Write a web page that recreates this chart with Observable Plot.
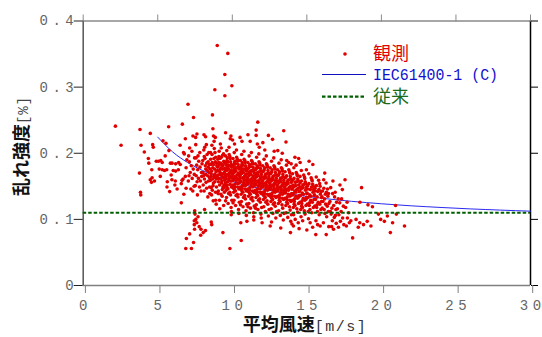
<!DOCTYPE html>
<html><head><meta charset="utf-8">
<script src="https://cdn.jsdelivr.net/npm/d3@7"></script>
<script src="https://cdn.jsdelivr.net/npm/@observablehq/plot@0.6"></script>
<style>body{margin:0;background:#fff;} #chart{width:542px;height:337px;}</style>
</head><body><div id="chart"></div>
<script>
// Observed turbulence intensity vs mean wind speed: [speed m/s, TI]
const observed = [
[2.16,0.241],[2.54,0.212],[3.81,0.236],[3.84,0.141],[3.86,0.137],[3.88,0.212],[3.77,0.170],[4.10,0.202],[4.37,0.192],[4.40,0.185],[4.50,0.230],[4.66,0.213],[4.70,0.209],[4.50,0.160],[4.62,0.163],[4.58,0.156],[4.78,0.158],[4.90,0.188],[4.60,0.175],
[5.05,0.188],[5.20,0.189],[5.30,0.186],[5.10,0.176],[5.30,0.175],[5.45,0.174],[5.60,0.175],[5.17,0.165],[5.64,0.157],[5.62,0.149],[5.73,0.240],[5.35,0.219],[5.55,0.215],[5.75,0.204],[5.90,0.167],[5.50,0.196],[5.85,0.185],[5.80,0.142],[5.95,0.160],
[6.04,0.174],[6.20,0.173],[6.38,0.175],[5.96,0.185],[6.20,0.184],[6.40,0.186],[6.51,0.183],[6.65,0.244],[6.73,0.201],[6.78,0.199],[6.18,0.158],[6.15,0.152],[6.63,0.159],[6.70,0.161],[6.58,0.154],[6.85,0.165],[6.58,0.125],[6.30,0.146],[6.90,0.178],[6.95,0.190],[6.50,0.212],[6.85,0.222],[6.90,0.147],[6.75,0.138],
[7.03,0.274],[7.40,0.254],[7.36,0.226],[7.07,0.196],[7.12,0.187],[7.25,0.181],[7.31,0.162],[7.18,0.171],[7.44,0.150],[7.05,0.158],[7.22,0.146],[7.38,0.176],[7.47,0.193],[7.14,0.208],[7.29,0.203],[7.35,0.143],[7.45,0.168],[7.10,0.166],
[7.14,0.078],[6.92,0.071],[7.40,0.065],[6.88,0.056],[7.26,0.056],[7.45,0.098],[7.50,0.108],[7.48,0.113],[7.45,0.092],[7.47,0.085],
[7.54,0.224],[7.63,0.229],[7.55,0.213],[7.70,0.196],[7.82,0.201],[7.61,0.182],[7.75,0.188],[7.93,0.171],[7.58,0.166],[7.68,0.175],[7.86,0.158],[7.97,0.184],[7.52,0.151],[7.73,0.162],[7.90,0.143],[7.64,0.157],[7.80,0.149],[7.95,0.165],[7.83,0.179],[7.66,0.137],[7.57,0.193],
[7.62,0.095],[7.78,0.089],[7.90,0.085],[7.88,0.076],[7.55,0.100],[7.70,0.104],
[8.10,0.228],[8.21,0.225],[8.14,0.115],[8.20,0.083],[8.05,0.080],
[8.03,0.171],[8.41,0.158],[8.17,0.192],[8.28,0.147],[8.46,0.183],[8.09,0.205],[8.35,0.166],[8.22,0.176],[8.49,0.139],[8.13,0.161],[8.31,0.198],[8.05,0.152],[8.44,0.171],[8.26,0.213],[8.38,0.187],[8.11,0.143],[8.19,0.181],[8.47,0.163],[8.02,0.189],[8.33,0.174],[8.24,0.156],[8.42,0.201],[8.07,0.166],[8.36,0.134],[8.15,0.209],[8.29,0.185],[8.48,0.149],[8.21,0.168],[8.39,0.179],[8.12,0.195],
[8.67,0.258],[8.70,0.237],[8.74,0.226],[8.86,0.224],[8.83,0.296],[8.99,0.363],[8.88,0.129],[8.59,0.096],[8.62,0.092],
[8.52,0.176],[8.87,0.163],[8.64,0.198],[8.71,0.151],[8.95,0.185],[8.58,0.169],[8.79,0.207],[8.66,0.144],[8.91,0.172],[8.55,0.191],[8.83,0.157],[8.74,0.183],[8.98,0.166],[8.61,0.137],[8.89,0.194],[8.69,0.178],[8.53,0.159],[8.81,0.176],[8.94,0.149],[8.63,0.212],[8.76,0.165],[8.57,0.183],[8.86,0.187],[8.72,0.128],[8.99,0.174],[8.68,0.161],[8.84,0.201],[8.59,0.148],[8.93,0.161],[8.77,0.192],[8.62,0.173],[8.88,0.141],[8.54,0.201],[8.96,0.181],[8.73,0.155],[8.65,0.186],[8.82,0.168],[8.92,0.123],[8.56,0.165],[8.78,0.218],
[9.50,0.319],[9.50,0.287],[9.37,0.080],
[9.04,0.167],[9.38,0.181],[9.15,0.152],[9.27,0.194],[9.46,0.171],[9.09,0.186],[9.33,0.145],[9.21,0.176],[9.49,0.159],[9.12,0.203],[9.29,0.166],[9.02,0.179],[9.43,0.188],[9.24,0.138],[9.36,0.169],[9.07,0.157],[9.18,0.192],[9.45,0.148],[9.01,0.174],[9.31,0.183],[9.23,0.161],[9.41,0.199],[9.06,0.143],[9.34,0.176],[9.14,0.129],[9.28,0.155],[9.47,0.186],[9.19,0.171],[9.39,0.164],[9.11,0.182],[9.26,0.208],[9.44,0.152],[9.03,0.191],[9.32,0.135],[9.17,0.168],[9.48,0.177],[9.22,0.185],[9.37,0.149],[9.08,0.162],[9.42,0.121],[9.13,0.173],[9.35,0.197],[9.25,0.178],[9.05,0.139],[9.40,0.163],[9.20,0.214],[9.30,0.158],[9.16,0.116],[9.47,0.141],[9.10,0.195],
[9.70,0.351],[9.97,0.302],[9.91,0.226],[9.86,0.222],[9.84,0.056],[9.93,0.107],[9.55,0.231],
[9.52,0.173],[9.87,0.158],[9.64,0.189],[9.71,0.146],[9.95,0.179],[9.58,0.165],[9.79,0.198],[9.66,0.152],[9.91,0.171],[9.55,0.184],[9.83,0.141],[9.74,0.176],[9.98,0.163],[9.61,0.133],[9.89,0.187],[9.69,0.168],[9.53,0.155],[9.81,0.181],[9.94,0.149],[9.63,0.204],[9.76,0.161],[9.57,0.177],[9.86,0.192],[9.72,0.124],[9.99,0.169],[9.68,0.157],[9.84,0.195],[9.59,0.144],[9.93,0.183],[9.77,0.166],[9.62,0.174],[9.88,0.137],[9.54,0.196],[9.96,0.158],[9.73,0.182],[9.65,0.148],[9.82,0.171],[9.92,0.118],[9.56,0.162],[9.78,0.209],[9.60,0.186],[9.85,0.153],[9.70,0.177],[9.97,0.129],[9.51,0.168],[9.80,0.163],[9.67,0.193],[9.90,0.174],[9.75,0.139],[9.58,0.151],[9.94,0.112],[9.63,0.181],[9.83,0.166],[9.72,0.187],[9.55,0.128],
[10.02,0.220],[10.15,0.214],
[10.02,0.168],[10.37,0.154],[10.14,0.185],[10.21,0.143],[10.45,0.176],[10.08,0.161],[10.29,0.194],[10.16,0.149],[10.41,0.169],[10.05,0.181],[10.33,0.138],[10.24,0.173],[10.48,0.159],[10.11,0.129],[10.39,0.183],[10.19,0.165],[10.03,0.152],[10.31,0.178],[10.44,0.146],[10.13,0.201],[10.26,0.158],[10.07,0.174],[10.36,0.188],[10.22,0.121],[10.49,0.166],[10.18,0.153],[10.34,0.191],[10.09,0.141],[10.43,0.179],[10.27,0.163],[10.12,0.171],[10.38,0.134],[10.04,0.192],[10.46,0.155],[10.23,0.178],[10.15,0.145],[10.32,0.167],[10.42,0.115],[10.06,0.159],[10.28,0.205],[10.10,0.182],[10.35,0.149],[10.20,0.174],[10.47,0.126],[10.01,0.164],[10.30,0.160],[10.17,0.188],[10.40,0.170],[10.25,0.136],[10.08,0.147],[10.44,0.109],[10.13,0.177],[10.33,0.162],[10.22,0.184],[10.05,0.125],
[10.57,0.095],[10.98,0.097],[10.60,0.068],[10.52,0.224],[10.65,0.218],
[10.52,0.166],[10.87,0.151],[10.64,0.183],[10.71,0.141],[10.95,0.173],[10.58,0.158],[10.79,0.191],[10.66,0.147],[10.91,0.167],[10.55,0.179],[10.83,0.136],[10.74,0.171],[10.98,0.156],[10.61,0.127],[10.89,0.181],[10.69,0.163],[10.53,0.149],[10.81,0.176],[10.94,0.143],[10.63,0.198],[10.76,0.155],[10.57,0.172],[10.86,0.186],[10.72,0.119],[10.99,0.163],[10.68,0.151],[10.84,0.189],[10.59,0.138],[10.93,0.177],[10.77,0.161],[10.62,0.169],[10.88,0.131],[10.54,0.189],[10.96,0.153],[10.73,0.176],[10.65,0.143],[10.82,0.165],[10.92,0.113],[10.56,0.157],[10.78,0.203],[10.60,0.180],[10.85,0.146],[10.70,0.172],[10.97,0.123],[10.51,0.162],[10.80,0.158],[10.67,0.186],[10.90,0.168],[10.75,0.133],[10.58,0.145],[10.94,0.106],[10.63,0.175],[10.83,0.160],[10.72,0.182],[10.55,0.122],
[11.20,0.218],[11.05,0.228],[11.44,0.099],
[11.02,0.163],[11.37,0.149],[11.14,0.181],[11.21,0.138],[11.45,0.171],[11.08,0.156],[11.29,0.189],[11.16,0.144],[11.41,0.164],[11.05,0.177],[11.33,0.133],[11.24,0.168],[11.48,0.153],[11.11,0.124],[11.39,0.179],[11.19,0.160],[11.03,0.146],[11.31,0.174],[11.44,0.141],[11.13,0.196],[11.26,0.152],[11.07,0.169],[11.36,0.184],[11.22,0.117],[11.49,0.160],[11.18,0.148],[11.34,0.187],[11.09,0.135],[11.43,0.175],[11.27,0.158],[11.12,0.166],[11.38,0.128],[11.04,0.186],[11.46,0.151],[11.23,0.173],[11.15,0.140],[11.32,0.162],[11.42,0.110],[11.06,0.154],[11.28,0.201],[11.10,0.178],[11.35,0.143],[11.20,0.170],[11.47,0.120],[11.01,0.159],[11.30,0.155],[11.17,0.183],[11.40,0.166],[11.25,0.131],[11.08,0.142],[11.44,0.104],[11.13,0.172],[11.33,0.157],[11.22,0.180],[11.05,0.119],
[11.71,0.247],[11.60,0.235],[11.60,0.227],[11.68,0.214],[11.81,0.209],[12.00,0.095],
[11.52,0.161],[11.87,0.146],[11.64,0.178],[11.71,0.136],[11.95,0.168],[11.58,0.154],[11.79,0.187],[11.66,0.142],[11.91,0.162],[11.55,0.175],[11.83,0.131],[11.74,0.166],[11.98,0.151],[11.61,0.122],[11.89,0.177],[11.69,0.158],[11.53,0.144],[11.81,0.172],[11.94,0.139],[11.63,0.194],[11.76,0.150],[11.57,0.167],[11.86,0.182],[11.72,0.115],[11.99,0.158],[11.68,0.146],[11.84,0.185],[11.59,0.133],[11.93,0.173],[11.77,0.156],[11.62,0.164],[11.88,0.126],[11.54,0.184],[11.96,0.149],[11.73,0.171],[11.65,0.138],[11.82,0.160],[11.92,0.108],[11.56,0.152],[11.78,0.199],[11.60,0.176],[11.85,0.141],[11.70,0.168],[11.97,0.118],[11.51,0.157],[11.80,0.153],[11.67,0.181],[11.90,0.164],[11.75,0.129],[11.58,0.140],[11.94,0.102],[11.63,0.170],[11.83,0.155],[11.72,0.178],[11.55,0.117],
[12.42,0.227],[12.05,0.216],[12.18,0.205],
[12.02,0.158],[12.37,0.144],[12.14,0.175],[12.21,0.133],[12.45,0.165],[12.08,0.151],[12.29,0.184],[12.16,0.139],[12.41,0.159],[12.05,0.172],[12.33,0.128],[12.24,0.163],[12.48,0.148],[12.11,0.119],[12.39,0.174],[12.19,0.155],[12.03,0.141],[12.31,0.169],[12.44,0.136],[12.13,0.191],[12.26,0.147],[12.07,0.164],[12.36,0.179],[12.22,0.112],[12.49,0.155],[12.18,0.143],[12.34,0.182],[12.09,0.130],[12.43,0.170],[12.27,0.153],[12.12,0.161],[12.38,0.123],[12.04,0.181],[12.46,0.146],[12.23,0.168],[12.15,0.135],[12.32,0.157],[12.42,0.105],[12.06,0.149],[12.28,0.196],[12.10,0.173],[12.35,0.138],[12.20,0.165],[12.47,0.115],[12.01,0.154],[12.30,0.150],[12.17,0.178],[12.40,0.161],[12.25,0.126],[12.08,0.137],
[12.54,0.090],[12.63,0.096],[12.70,0.221],[12.81,0.203],
[12.52,0.155],[12.87,0.141],[12.64,0.172],[12.71,0.130],[12.95,0.162],[12.58,0.148],[12.79,0.181],[12.66,0.136],[12.91,0.156],[12.55,0.169],[12.83,0.125],[12.74,0.160],[12.98,0.145],[12.61,0.116],[12.89,0.171],[12.69,0.152],[12.53,0.138],[12.81,0.166],[12.94,0.133],[12.63,0.188],[12.76,0.144],[12.57,0.161],[12.86,0.176],[12.72,0.109],[12.99,0.152],[12.68,0.140],[12.84,0.179],[12.59,0.127],[12.93,0.167],[12.77,0.150],[12.62,0.158],[12.88,0.120],[12.54,0.178],[12.96,0.143],[12.73,0.165],[12.65,0.132],[12.82,0.154],[12.92,0.102],[12.56,0.146],[12.78,0.193],[12.60,0.170],[12.85,0.135],[12.70,0.162],[12.97,0.112],[12.51,0.151],[12.80,0.147],[12.67,0.175],[12.90,0.158],[12.75,0.123],[12.58,0.134],
[13.45,0.234],[13.25,0.087],[13.05,0.204],[13.35,0.200],
[13.02,0.152],[13.37,0.138],[13.14,0.169],[13.21,0.127],[13.45,0.159],[13.08,0.145],[13.29,0.178],[13.16,0.133],[13.41,0.153],[13.05,0.166],[13.33,0.122],[13.24,0.157],[13.48,0.142],[13.11,0.113],[13.39,0.168],[13.19,0.149],[13.03,0.135],[13.31,0.163],[13.44,0.130],[13.13,0.185],[13.26,0.141],[13.07,0.158],[13.36,0.173],[13.22,0.106],[13.49,0.149],[13.18,0.137],[13.34,0.176],[13.09,0.124],[13.43,0.164],[13.27,0.147],[13.12,0.155],[13.38,0.117],[13.04,0.175],[13.46,0.140],[13.23,0.162],[13.15,0.129],[13.32,0.151],[13.42,0.099],[13.06,0.143],[13.28,0.190],[13.10,0.167],[13.35,0.132],[13.20,0.159],[13.47,0.109],[13.01,0.148],[13.30,0.144],[13.17,0.172],[13.40,0.155],
[13.60,0.217],[13.65,0.189],[13.95,0.184],[14.00,0.093],[13.90,0.080],
[13.52,0.149],[13.87,0.135],[13.64,0.166],[13.71,0.124],[13.95,0.156],[13.58,0.142],[13.79,0.175],[13.66,0.130],[13.91,0.150],[13.55,0.163],[13.83,0.119],[13.74,0.154],[13.98,0.139],[13.61,0.110],[13.89,0.165],[13.69,0.146],[13.53,0.132],[13.81,0.160],[13.94,0.127],[13.63,0.182],[13.76,0.138],[13.57,0.155],[13.86,0.170],[13.72,0.103],[13.99,0.146],[13.68,0.134],[13.84,0.172],[13.59,0.121],[13.93,0.161],[13.77,0.144],[13.62,0.152],[13.88,0.114],[13.54,0.172],[13.96,0.137],[13.73,0.159],[13.65,0.126],[13.82,0.148],[13.92,0.097],[13.56,0.140],[13.78,0.186],[13.60,0.164],[13.85,0.129],[13.70,0.156],[13.97,0.107],[13.51,0.145],
[14.20,0.194],[14.45,0.192],[14.10,0.090],[14.48,0.086],
[14.02,0.146],[14.37,0.132],[14.14,0.162],[14.21,0.121],[14.45,0.152],[14.08,0.139],[14.29,0.171],[14.16,0.127],[14.41,0.147],[14.05,0.159],[14.33,0.116],[14.24,0.151],[14.48,0.136],[14.11,0.107],[14.39,0.161],[14.19,0.143],[14.03,0.129],[14.31,0.157],[14.44,0.124],[14.13,0.178],[14.26,0.135],[14.07,0.152],[14.36,0.166],[14.22,0.100],[14.49,0.142],[14.18,0.131],[14.34,0.168],[14.09,0.118],[14.43,0.158],[14.27,0.141],[14.12,0.149],[14.38,0.111],[14.04,0.169],[14.46,0.134],[14.23,0.156],[14.15,0.123],[14.32,0.145],[14.42,0.095],[14.06,0.137],[14.28,0.182],
[14.55,0.186],[14.97,0.175],[15.00,0.084],
[14.52,0.143],[14.87,0.129],[14.64,0.158],[14.71,0.118],[14.95,0.148],[14.58,0.136],[14.79,0.167],[14.66,0.124],[14.91,0.144],[14.55,0.155],[14.83,0.113],[14.74,0.148],[14.98,0.133],[14.61,0.104],[14.89,0.157],[14.69,0.140],[14.53,0.126],[14.81,0.153],[14.94,0.121],[14.63,0.174],[14.76,0.132],[14.57,0.149],[14.86,0.162],[14.72,0.098],[14.99,0.139],[14.68,0.128],[14.84,0.164],[14.59,0.115],[14.93,0.154],[14.77,0.138],[14.62,0.146],[14.88,0.108],[14.54,0.165],[14.96,0.131],[14.73,0.152],[14.65,0.120],
[15.15,0.188],[15.40,0.183],[15.39,0.088],
[15.02,0.140],[15.37,0.126],[15.14,0.154],[15.21,0.115],[15.45,0.145],[15.08,0.133],[15.29,0.163],[15.16,0.121],[15.41,0.141],[15.05,0.151],[15.33,0.110],[15.24,0.145],[15.48,0.130],[15.11,0.101],[15.39,0.153],[15.19,0.137],[15.03,0.123],[15.31,0.149],[15.44,0.118],[15.13,0.169],[15.26,0.129],[15.07,0.146],[15.36,0.158],[15.22,0.095],[15.49,0.136],[15.18,0.125],[15.34,0.160],[15.09,0.112],[15.43,0.150],[15.27,0.135],
[15.60,0.077],[15.89,0.090],
[15.52,0.137],[15.87,0.123],[15.64,0.151],[15.71,0.112],[15.95,0.142],[15.58,0.130],[15.79,0.159],[15.66,0.118],[15.91,0.138],[15.55,0.147],[15.83,0.107],[15.74,0.142],[15.98,0.127],[15.61,0.098],[15.89,0.150],[15.69,0.134],[15.53,0.120],[15.81,0.145],[15.94,0.115],[15.63,0.164],[15.76,0.126],[15.57,0.143],[15.86,0.154],[15.72,0.092],[15.99,0.133],[15.68,0.122],
[16.30,0.077],[16.20,0.170],
[16.02,0.134],[16.37,0.120],[16.14,0.147],[16.21,0.109],[16.45,0.139],[16.08,0.127],[16.29,0.155],[16.16,0.115],[16.41,0.135],[16.05,0.143],[16.33,0.104],[16.24,0.138],[16.48,0.124],[16.11,0.095],[16.39,0.146],[16.19,0.131],[16.03,0.117],[16.31,0.141],[16.44,0.112],[16.13,0.160],[16.26,0.123],[16.47,0.089],
[16.55,0.127],[16.68,0.117],[16.80,0.121],[16.60,0.148],[16.73,0.139],[16.86,0.134],[16.99,0.126],[16.63,0.108],[16.90,0.141],[16.58,0.112],[16.71,0.098],[16.84,0.103],[16.97,0.094],[16.66,0.089],[16.79,0.085],[16.92,0.106],[16.75,0.158],[16.95,0.115],
[17.10,0.131],[17.33,0.131],[17.20,0.125],[17.45,0.120],[17.05,0.116],[17.30,0.112],[17.15,0.107],[17.40,0.102],[17.25,0.097],[17.48,0.092],[17.12,0.088],[17.38,0.145],[17.22,0.152],
[17.56,0.160],[17.70,0.126],[17.60,0.118],[17.72,0.102],[17.85,0.095],[17.65,0.090],[17.95,0.098],[18.07,0.072],[17.80,0.110],
[18.67,0.148],[18.56,0.126],[19.10,0.122],[19.40,0.119],[18.30,0.100],[18.55,0.095],[18.80,0.092],[19.05,0.097],[19.30,0.090],[18.45,0.088],
[20.95,0.121],[21.55,0.090],[20.60,0.080],[19.80,0.108],[19.95,0.100],[20.20,0.097],[20.40,0.105],[20.75,0.095],[21.00,0.108]
];

// IEC 61400-1 class C turbulence curve
const iecSpeed = [5,6,7,8,9,10,11,12,13,14,15,16,17,18,19,20,21,22,23,24,25,26,27,28,29,30];
const iecTI = [0.2244,0.2020,0.1860,0.1740,0.1647,0.1572,0.1511,0.1460,0.1417,0.1380,0.1348,0.1320,0.1295,0.1273,0.1254,0.1236,0.1220,0.1205,0.1192,0.1180,0.1169,0.1158,0.1149,0.1140,0.1132,0.1124];

// Conventional design value
const conventionalTI = 0.11;

const xTicks = [0,5,10,15,20,25,30];
const yTicks = [0,0.1,0.2,0.3,0.4];
const legendLabels = ["観測","IEC61400-1 (C)","従来"];
const xTitle = "平均風速", xUnit = "[m/s]";
const yTitle = "乱れ強度", yUnit = "[%]";

const RED = "#e00000", BLUE = "#2a2af0", GREEN = "#006000";

const iecRows = iecSpeed.map((v, i) => ({v, ti: iecTI[i]}));

const chart = Plot.plot({
  width: 542, height: 337,
  marginLeft: 82.7, marginRight: 12, marginTop: 20.5, marginBottom: 52,
  x: {domain: [0, 30]},
  y: {domain: [0, 0.4]},
  style: {fontFamily: "Liberation Mono", fontSize: "14px", letterSpacing: "4.5px", background: "#fff"},
  marks: [
    Plot.ruleY([0.4], {stroke: "#8a8a8a", strokeWidth: 1.5}),
    Plot.ruleY([0], {stroke: "#808080", strokeWidth: 1.5}),
    Plot.ruleX([0], {stroke: "#555", strokeWidth: 1.5}),
    Plot.ruleX([30], {stroke: "#000", strokeWidth: 1.5}),
    Plot.axisY({ticks: yTicks, tickSize: 9, tickPadding: -4, stroke: "#222", fill: "#666", label: null,
      tickFormat: d => d === 0 ? "0" : d.toFixed(1)}),
    Plot.axisY({anchor: "right", ticks: yTicks, tickSize: 7, stroke: "#000", fill: "none", label: null}),
    Plot.axisX({ticks: xTicks, tickSize: 8, tickPadding: 7, stroke: "#808080", fill: "#666", label: null,
      tickFormat: d => String(d), dx: 2.2}),
    Plot.axisX({anchor: "top", ticks: xTicks, tickSize: 7, stroke: "#8a8a8a", fill: "none", label: null}),
    Plot.line(iecRows, {x: "v", y: "ti", stroke: BLUE, strokeWidth: 1, curve: "monotone-x"}),
    Plot.dot(observed, {x: d => d[0], y: d => d[1], r: 1.8, fill: RED, stroke: null}),
    Plot.ruleY([conventionalTI], {x1: 0, x2: 30, stroke: GREEN, strokeWidth: 2.2, strokeDasharray: "3.5,2"})
  ]
});
document.getElementById("chart").appendChild(chart);

const svg = d3.select(chart);
const jp = "'Noto Sans CJK JP', 'Noto Sans', sans-serif";

// Legend
const lg = svg.append("g").attr("letter-spacing", "0").attr("text-anchor", "start");
lg.append("circle").attr("cx", 345).attr("cy", 54).attr("r", 1.8).attr("fill", RED);
lg.append("text").attr("x", 373).attr("y", 54).attr("dy", "0.36em").attr("fill", RED)
  .attr("font-family", jp).attr("font-size", 18).text(legendLabels[0]);
lg.append("line").attr("x1", 322).attr("x2", 366).attr("y1", 74.5).attr("y2", 74.5)
  .attr("stroke", "#1010c0").attr("stroke-width", 1);
lg.append("text").attr("x", 373).attr("y", 74.5).attr("dy", "0.36em").attr("fill", "#1010d0")
  .attr("font-family", "Liberation Mono").attr("font-size", 16)
  .attr("textLength", 125).attr("lengthAdjust", "spacingAndGlyphs").text(legendLabels[1]);
lg.append("line").attr("x1", 322).attr("x2", 366).attr("y1", 96.7).attr("y2", 96.7)
  .attr("stroke", GREEN).attr("stroke-width", 2.2).attr("stroke-dasharray", "3.5,2");
lg.append("text").attr("x", 373).attr("y", 96.7).attr("dy", "0.36em").attr("fill", "#1a6a1a")
  .attr("font-family", jp).attr("font-size", 18).text(legendLabels[2]);

// X title
const xt = svg.append("text").attr("x", 305).attr("y", 331).attr("text-anchor", "middle").attr("letter-spacing", "0");
xt.append("tspan").attr("font-family", jp).attr("font-size", 18).attr("font-weight", "bold").attr("fill", "#111").text(xTitle);
xt.append("tspan").attr("font-family", "Liberation Mono").attr("font-size", 15).attr("letter-spacing", "1.5px").attr("fill", "#333").text(xUnit);

// Y title
const yt = svg.append("text").attr("transform", "translate(28,146) rotate(-90)").attr("text-anchor", "middle").attr("letter-spacing", "0");
yt.append("tspan").attr("font-family", jp).attr("font-size", 18).attr("font-weight", "bold").attr("fill", "#111").text(yTitle);
yt.append("tspan").attr("font-family", "Liberation Mono").attr("font-size", 14).attr("letter-spacing", "1px").attr("fill", "#444").text(yUnit);
</script>
</body></html>
